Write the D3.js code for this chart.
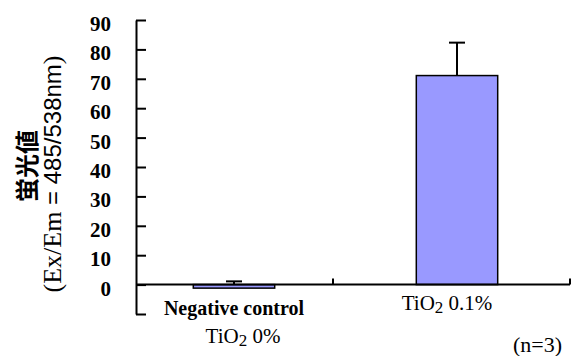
<!DOCTYPE html>
<html>
<head>
<meta charset="utf-8">
<script src="https://cdn.jsdelivr.net/npm/d3@7"></script>
<style>
  body { margin: 0; background: #fff; }
  svg text { fill: #000; }
</style>
</head>
<body>
<div id="chart"></div>
<script>
// data
var categories = ["Negative control|TiO2 0%", "TiO2 0.1%"];
var values = [-1.2, 71.1];
var errors = [2.3, 11.2];
var yTicks = [-10, 0, 10, 20, 30, 40, 50, 60, 70, 80, 90];

var width = 572, height = 356;
var serif = "'Liberation Serif', 'Times New Roman', 'DejaVu Serif', serif";

var svg = d3.select("#chart").append("svg")
            .attr("width", width)
            .attr("height", height);

var y = d3.scaleLinear()
          .domain([-10, 90])
          .range([314, 20]);

var x = d3.scaleBand()
          .domain(categories)
          .range([122.5, 568.5])
          .paddingInner(0.635)
          .paddingOuter(0.3175);

var axisX = 136;
var catEdges = [333, 570];

// bars
svg.selectAll("rect.bar")
  .data(values)
  .enter().append("rect")
  .attr("class", "bar")
  .attr("x", function(d, i) { return x(categories[i]); })
  .attr("width", x.bandwidth())
  .attr("y", function(d) { return y(Math.max(0, d)); })
  .attr("height", function(d) { return Math.abs(y(d) - y(0)); })
  .attr("fill", "#9999ff")
  .attr("stroke", "#000")
  .attr("stroke-width", 1.5);

// error bars
var cx = function(i) { return x(categories[i]) + x.bandwidth() / 2; };
svg.selectAll("line.err")
  .data(values)
  .enter().append("line")
  .attr("x1", function(d, i) { return cx(i); })
  .attr("x2", function(d, i) { return cx(i); })
  .attr("y1", function(d) { return y(Math.max(0, d)); })
  .attr("y2", function(d, i) { return y(d + errors[i]); })
  .attr("stroke", "#000")
  .attr("stroke-width", 2);

svg.selectAll("line.cap")
  .data(values)
  .enter().append("line")
  .attr("x1", function(d, i) { return cx(i) - 8; })
  .attr("x2", function(d, i) { return cx(i) + 8; })
  .attr("y1", function(d, i) { return y(d + errors[i]); })
  .attr("y2", function(d, i) { return y(d + errors[i]); })
  .attr("stroke", "#000")
  .attr("stroke-width", 2);

// y axis
var yAxis = svg.append("g")
  .attr("transform", "translate(" + axisX + ",0)")
  .call(d3.axisRight(y).tickValues(yTicks).tickSize(10).tickSizeOuter(0)
          .tickFormat(function(d) { return d < 0 ? "" : d; }));
yAxis.attr("font-family", serif).attr("font-size", 21);
yAxis.select(".domain").attr("stroke-width", 2);
yAxis.selectAll(".tick line").attr("stroke-width", 2);
yAxis.selectAll(".tick text")
  .attr("x", -25)
  .attr("dy", "0.36em")
  .attr("y", 3)
  .style("text-anchor", "end")
  .style("font-family", serif)
  .style("font-weight", "bold")
  .style("font-size", "21px");

// x axis line with ticks between categories
svg.append("line")
  .attr("x1", axisX).attr("x2", catEdges[1])
  .attr("y1", y(0)).attr("y2", y(0))
  .attr("stroke", "#000").attr("stroke-width", 2);

svg.selectAll("line.xtick")
  .data(catEdges)
  .enter().append("line")
  .attr("x1", function(d) { return d; })
  .attr("x2", function(d) { return d; })
  .attr("y1", y(0))
  .attr("y2", y(0) - 6)
  .attr("stroke", "#000").attr("stroke-width", 2);

// category labels
function tio2(sel, rest) {
  sel.append("tspan").text("TiO");
  sel.append("tspan").attr("dy", 3).style("font-size", "17px").text("2");
  sel.append("tspan").attr("dy", -3).text(" " + rest);
}

svg.append("text")
  .attr("x", cx(0))
  .attr("y", 315)
  .style("text-anchor", "middle")
  .style("font-family", serif)
  .style("font-weight", "bold")
  .style("font-size", "20px")
  .text(categories[0].split("|")[0]);

svg.append("text")
  .attr("x", cx(0) + 9)
  .attr("y", 343)
  .style("text-anchor", "middle")
  .style("font-family", serif)
  .style("font-size", "21px")
  .call(tio2, "0%");

svg.append("text")
  .attr("x", cx(1) - 10)
  .attr("y", 310)
  .style("text-anchor", "middle")
  .style("font-family", serif)
  .style("font-size", "21px")
  .call(tio2, "0.1%");

// sample size note
svg.append("text")
  .attr("x", 562)
  .attr("y", 352)
  .style("text-anchor", "end")
  .style("font-family", serif)
  .style("font-size", "22px")
  .text("(n=3)");

// y axis title
svg.append("text")
  .attr("transform", "translate(36,166) rotate(-90)")
  .style("text-anchor", "middle")
  .style("font-family", "'Noto Sans CJK JP', sans-serif")
  .style("font-weight", "bold")
  .style("font-size", "24px")
  .text("蛍光値");

var t2 = svg.append("text")
  .attr("transform", "translate(61,174) rotate(-90)")
  .style("text-anchor", "middle")
  .style("font-family", serif)
  .style("font-size", "26px");
t2.append("tspan").text("(Ex/Em");
t2.append("tspan").style("font-family", "'Liberation Sans', sans-serif").style("font-size", "24px").text(" = 485/538nm");
t2.append("tspan").text(")");
</script>
</body>
</html>
